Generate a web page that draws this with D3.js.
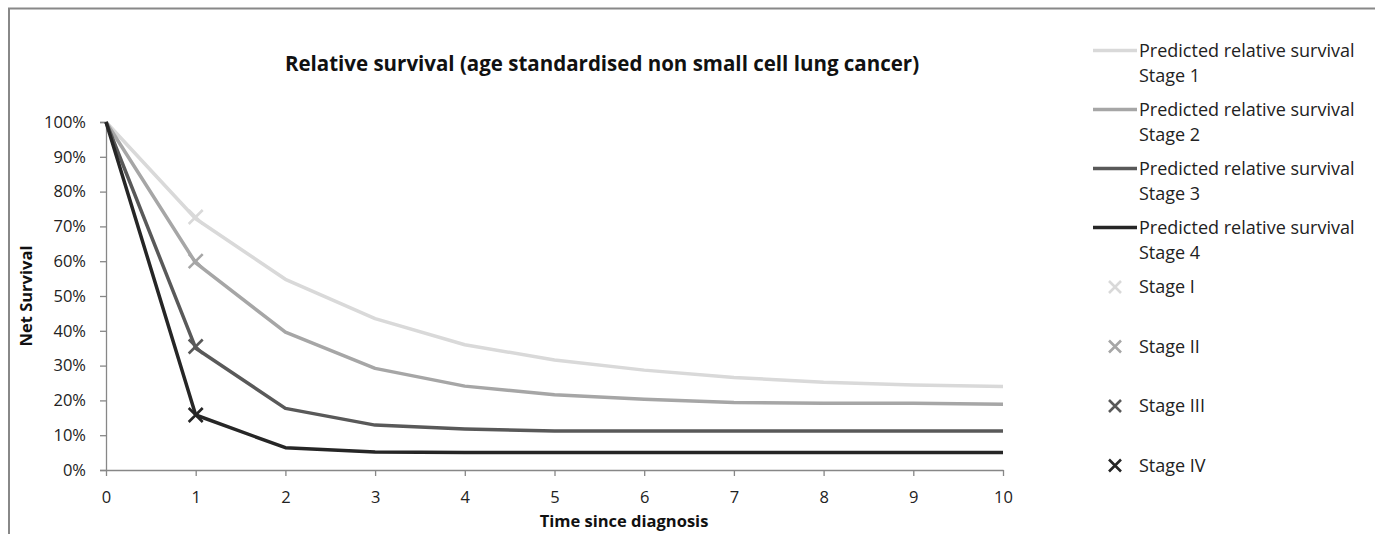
<!DOCTYPE html>
<html>
<head>
<meta charset="utf-8">
<script src="https://cdn.jsdelivr.net/npm/d3@7"></script>
<style>
  html, body { margin: 0; padding: 0; background: #fff; }
  svg { display: block; font-family: "Open Sans", sans-serif; }
</style>
</head>
<body>
<svg id="chart" width="1375" height="534"></svg>
<script>
// Years since diagnosis
const years = [0, 1, 2, 3, 4, 5, 6, 7, 8, 9, 10];

// Predicted relative survival curves (%)
const stage1 = [100, 72.2, 54.8, 43.5, 36.0, 31.6, 28.7, 26.6, 25.2, 24.4, 24.0];
const stage2 = [100, 59.5, 39.6, 29.2, 24.1, 21.6, 20.3, 19.4, 19.2, 19.2, 18.9];
const stage3 = [100, 35.0, 17.7, 12.9, 11.8, 11.2, 11.2, 11.2, 11.2, 11.2, 11.2];
const stage4 = [100, 15.8, 6.4, 5.2, 5.0, 5.0, 5.0, 5.0, 5.0, 5.0, 5.0];

// Observed one-year survival by stage (%)
const observedYear = [1, 1, 1, 1];
const observed = [72.7, 60.0, 35.5, 15.8];

const lineNames = ["Stage 1", "Stage 2", "Stage 3", "Stage 4"];
const pointNames = ["Stage I", "Stage II", "Stage III", "Stage IV"];
const colors = ["#d9d9d9", "#a6a6a6", "#595959", "#262626"];
const yTicks = [0, 10, 20, 30, 40, 50, 60, 70, 80, 90, 100];

const svg = d3.select("#chart");

// outer frame
svg.append("path")
  .attr("d", "M9,540 V8.5 H1380")
  .attr("fill", "none")
  .attr("stroke", "#888")
  .attr("stroke-width", 2);

const x = d3.scaleLinear().domain([0, 10]).range([106, 1003]);
const y = d3.scaleLinear().domain([0, 100]).range([470, 122]);

const axisColor = "#878787";
const tickFont = 16.5;

// y axis
const yAxis = svg.append("g")
  .attr("transform", `translate(${x(0)},0)`)
  .call(d3.axisLeft(y).tickValues(yTicks).tickFormat(d => d + "%").tickSize(6).tickPadding(14));
yAxis.select(".domain").attr("stroke", axisColor).attr("stroke-width", 1.3);
yAxis.selectAll(".tick line").attr("stroke", axisColor).attr("stroke-width", 1.3);
yAxis.selectAll("text").attr("fill", "#222").attr("font-size", tickFont).attr("font-family", "'Open Sans', sans-serif");

// x axis
const xAxis = svg.append("g")
  .attr("transform", `translate(0,${y(0)})`)
  .call(d3.axisBottom(x).tickValues(years).tickFormat(d3.format("d")).tickSize(6).tickSizeOuter(0).tickPadding(15));
xAxis.select(".domain").attr("stroke", axisColor).attr("stroke-width", 1.3);
xAxis.selectAll(".tick line").attr("stroke", axisColor).attr("stroke-width", 1.3);
xAxis.selectAll("text").attr("fill", "#222").attr("font-size", tickFont).attr("font-family", "'Open Sans', sans-serif");

// survival curves
const series = [stage1, stage2, stage3, stage4];
const line = d3.line().x((d, i) => x(years[i])).y(d => y(d));
series.forEach((s, i) => {
  svg.append("path")
    .datum(s)
    .attr("d", line)
    .attr("fill", "none")
    .attr("stroke", colors[i])
    .attr("stroke-width", 3.5)
    .attr("stroke-linejoin", "round");
});

// cross markers
function cross(g, cx, cy, r, color, w) {
  g.append("path")
    .attr("d", `M${cx - r},${cy - r}L${cx + r},${cy + r}M${cx - r},${cy + r}L${cx + r},${cy - r}`)
    .attr("stroke", color)
    .attr("stroke-width", w)
    .attr("fill", "none");
}
observed.forEach((v, i) => cross(svg, x(observedYear[i]), y(v), 7, colors[i], 2.6));

// title
svg.append("text")
  .attr("x", 602).attr("y", 71)
  .attr("text-anchor", "middle")
  .attr("font-weight", "bold")
  .attr("font-size", 20.5)
  .attr("fill", "#111")
  .text("Relative survival (age standardised non small cell lung cancer)");

// axis titles
svg.append("text")
  .attr("x", 624).attr("y", 527)
  .attr("text-anchor", "middle")
  .attr("font-weight", "bold")
  .attr("font-size", 16.5)
  .attr("fill", "#111")
  .text("Time since diagnosis");

svg.append("text")
  .attr("transform", "translate(32,296) rotate(-90)")
  .attr("text-anchor", "middle")
  .attr("font-weight", "bold")
  .attr("font-size", 16.5)
  .attr("fill", "#111")
  .text("Net Survival");

// legend
const leg = svg.append("g").attr("font-size", 18).attr("fill", "#222");
lineNames.forEach((n, i) => {
  const ly = 50.5 + i * 59;
  leg.append("line")
    .attr("x1", 1093).attr("x2", 1137)
    .attr("y1", ly).attr("y2", ly)
    .attr("stroke", colors[i]).attr("stroke-width", 3.5);
  leg.append("text").attr("x", 1139).attr("y", ly + 6).text("Predicted relative survival");
  leg.append("text").attr("x", 1139).attr("y", ly + 31).text(n);
});
pointNames.forEach((n, i) => {
  const ly = 287 + i * 59.5;
  cross(leg, 1115, ly, 6, colors[i], 2.6);
  leg.append("text").attr("x", 1139).attr("y", ly + 6).text(n);
});
</script>
</body>
</html>
